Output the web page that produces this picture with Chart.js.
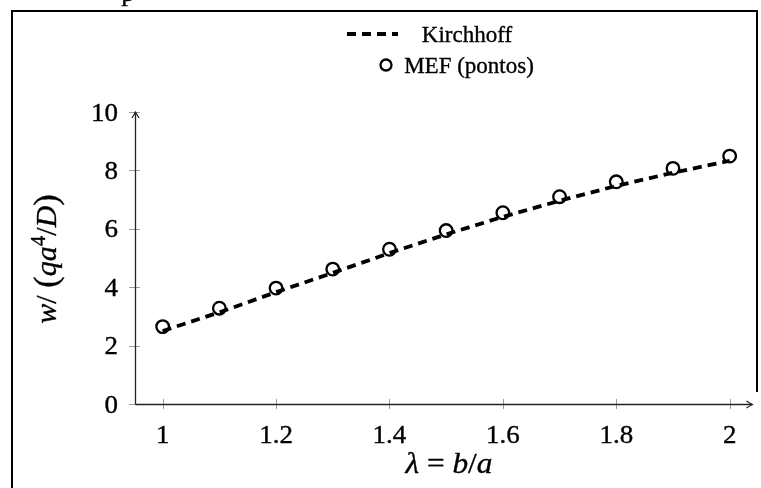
<!DOCTYPE html>
<html lang="pt">
<head>
<meta charset="UTF-8">
<title>Deflexão central</title>
<script src="https://cdn.jsdelivr.net/npm/chart.js"></script>
<style>
  html, body { margin: 0; padding: 0; background: #fff; }
  #wrap { width: 761px; height: 488px; position: relative; }
</style>
</head>
<body>
<div id="wrap"><canvas id="chart"></canvas></div>
<script>
// data
const lambdas   = [1.0, 1.1, 1.2, 1.3, 1.4, 1.5, 1.6, 1.7, 1.8, 1.9, 2.0];
const kirchhoff = [2.50, 3.14, 3.83, 4.49, 5.17, 5.81, 6.41, 6.96, 7.47, 7.92, 8.33];
const mef       = [2.65, 3.28, 3.97, 4.62, 5.30, 5.94, 6.55, 7.10, 7.61, 8.07, 8.49];
const xTicks = [1, 1.2, 1.4, 1.6, 1.8, 2];
const yTicks = [0, 2, 4, 6, 8, 10];
const seriesNames = ["Kirchhoff", "MEF (pontos)"];

const SERIF = "'Liberation Serif', 'Times New Roman', serif";
const SX = 1.08; // the figure is a bit wider than tall

function fontOf(size, italic) {
  return (italic ? "italic " : "") + size + "px " + SERIF;
}

// parts: [text, italic, sizeFactor, dy]
function rich(ctx, parts, size, align) {
  let w = 0;
  parts.forEach(p => {
    ctx.font = fontOf(size * (p[2] || 1), p[1]);
    w += ctx.measureText(p[0]).width;
  });
  let cx = align === "center" ? -w / 2 : (align === "right" ? -w : 0);
  ctx.textAlign = "left";
  ctx.lineWidth = 0.35;
  ctx.strokeStyle = "#000";
  parts.forEach(p => {
    ctx.font = fontOf(size * (p[2] || 1), p[1]);
    ctx.fillText(p[0], cx, p[3] || 0);
    ctx.strokeText(p[0], cx, p[3] || 0);
    cx += ctx.measureText(p[0]).width;
  });
}

function textAt(ctx, x, y, parts, size, align, rotate, sx) {
  ctx.save();
  ctx.translate(x, y);
  if (rotate) {
    ctx.rotate(-Math.PI / 2);
  } else {
    ctx.scale(sx || SX, 1);
  }
  ctx.textBaseline = "alphabetic";
  rich(ctx, parts, size, align);
  ctx.restore();
}

function seg(ctx, x1, y1, x2, y2) {
  ctx.beginPath();
  ctx.moveTo(x1, y1);
  ctx.lineTo(x2, y2);
  ctx.stroke();
}

const axesPlugin = {
  id: "axesPlugin",
  beforeDatasetsDraw(chart) {
    const { ctx, chartArea: a, scales: { x, y } } = chart;
    ctx.save();
    ctx.fillStyle = "#000";

    // tick marks
    ctx.strokeStyle = "#9a9a9a";
    ctx.lineWidth = 1;
    x.ticks.forEach(t => {
      const px = Math.round(x.getPixelForValue(t.value)) + 0.5;
      seg(ctx, px, a.bottom - 5, px, a.bottom + 5);
    });
    y.ticks.forEach(t => {
      const py = Math.round(y.getPixelForValue(t.value)) + 0.5;
      seg(ctx, a.left - 6, py, a.left + 5, py);
    });

    // axis lines with arrows
    ctx.strokeStyle = "#222";
    ctx.lineWidth = 1.3;
    const x0 = Math.round(a.left) + 0.5, y0 = Math.round(a.bottom) + 0.5;
    seg(ctx, x0, y0, a.right, y0);
    seg(ctx, x0, y0, x0, a.top);
    ctx.lineWidth = 1.2;
    ctx.beginPath();
    ctx.moveTo(a.right - 6, y0 - 3.5); ctx.quadraticCurveTo(a.right - 2, y0 - 1, a.right, y0);
    ctx.quadraticCurveTo(a.right - 2, y0 + 1, a.right - 6, y0 + 3.5);
    ctx.stroke();
    ctx.beginPath();
    ctx.moveTo(x0 - 3.5, a.top + 6); ctx.quadraticCurveTo(x0 - 1, a.top + 2, x0, a.top);
    ctx.quadraticCurveTo(x0 + 1, a.top + 2, x0 + 3.5, a.top + 6);
    ctx.stroke();

    // tick labels
    x.ticks.forEach(t => {
      textAt(ctx, x.getPixelForValue(t.value), 443, [[String(t.value), false]], 25, "center");
    });
    y.ticks.forEach(t => {
      textAt(ctx, 118, y.getPixelForValue(t.value) + 8.5, [[String(t.value), false]], 25, "right");
    });

    // axis titles
    textAt(ctx, 449, 473, [["λ", true], [" = ", false], ["b", true], ["/", false], ["a", true]], 29, "center");
    textAt(ctx, 56, 259, [
      ["w", true], ["/ ", false], ["(", false, 1.15, 1], ["qa", true], ["4", false, 0.7, -11],
      ["/", false], ["D", true], [")", false, 1.15, 1]
    ], 30, "center", true);
    ctx.restore();
  },
  afterDraw(chart) {
    const { ctx } = chart;
    const ds = chart.data.datasets;
    ctx.save();
    ctx.fillStyle = "#000";

    // frame round the figure
    ctx.strokeStyle = "#000";
    ctx.lineWidth = 2;
    ctx.beginPath();
    ctx.moveTo(12, 488); ctx.lineTo(12, 11); ctx.lineTo(757, 11); ctx.lineTo(757, 392);
    ctx.stroke();
    // clipped caption letter at the very top
    textAt(ctx, 128, 1, [["p", false]], 25, "center");

    // legend
    ctx.strokeStyle = ds[0].borderColor;
    ctx.lineWidth = ds[0].borderWidth;
    ctx.setLineDash(ds[0].borderDash);
    seg(ctx, 347, 34, 398, 34);
    ctx.setLineDash([]);
    ctx.lineWidth = ds[1].borderWidth;
    ctx.beginPath();
    ctx.arc(386, 65, 5.5, 0, Math.PI * 2);
    ctx.stroke();
    textAt(ctx, 467, 42, [[seriesNames[0], false]], 23, "center", false, 1);
    textAt(ctx, 469, 73, [[seriesNames[1], false]], 23, "center", false, 1);
    ctx.restore();
  }
};

new Chart(document.getElementById("chart"), {
  type: "scatter",
  data: {
    datasets: [
      {
        label: seriesNames[0],
        data: lambdas.map((l, i) => ({ x: l, y: kirchhoff[i] })),
        showLine: true,
        borderColor: "#000",
        borderWidth: 3.8,
        borderDash: [9, 6],
        pointRadius: 0,
        fill: false,
        order: 2
      },
      {
        label: seriesNames[1],
        data: lambdas.map((l, i) => ({ x: l, y: mef[i] })),
        showLine: false,
        borderColor: "#000",
        backgroundColor: "rgba(0,0,0,0)",
        borderWidth: 2.3,
        pointRadius: 6.3,
        pointStyle: "circle",
        order: 1
      }
    ]
  },
  options: {
    responsive: true,
    maintainAspectRatio: false,
    animation: false,
    layout: { padding: { top: 112, right: 1, left: 0, bottom: 0 } },
    plugins: {
      legend: { display: false },
      tooltip: { enabled: false }
    },
    scales: {
      x: {
        type: "linear",
        min: 0.9512,
        max: 2.0401,
        afterBuildTicks: s => { s.ticks = xTicks.map(v => ({ value: v })); },
        afterFit: s => { s.height = 84; },
        ticks: { display: false },
        grid: { display: false, drawTicks: false },
        border: { display: false }
      },
      y: {
        min: 0,
        max: 10,
        afterBuildTicks: s => { s.ticks = yTicks.map(v => ({ value: v })); },
        afterFit: s => { s.width = 135; },
        ticks: { display: false },
        grid: { display: false, drawTicks: false },
        border: { display: false }
      }
    }
  },
  plugins: [axesPlugin]
});
</script>
</body>
</html>
